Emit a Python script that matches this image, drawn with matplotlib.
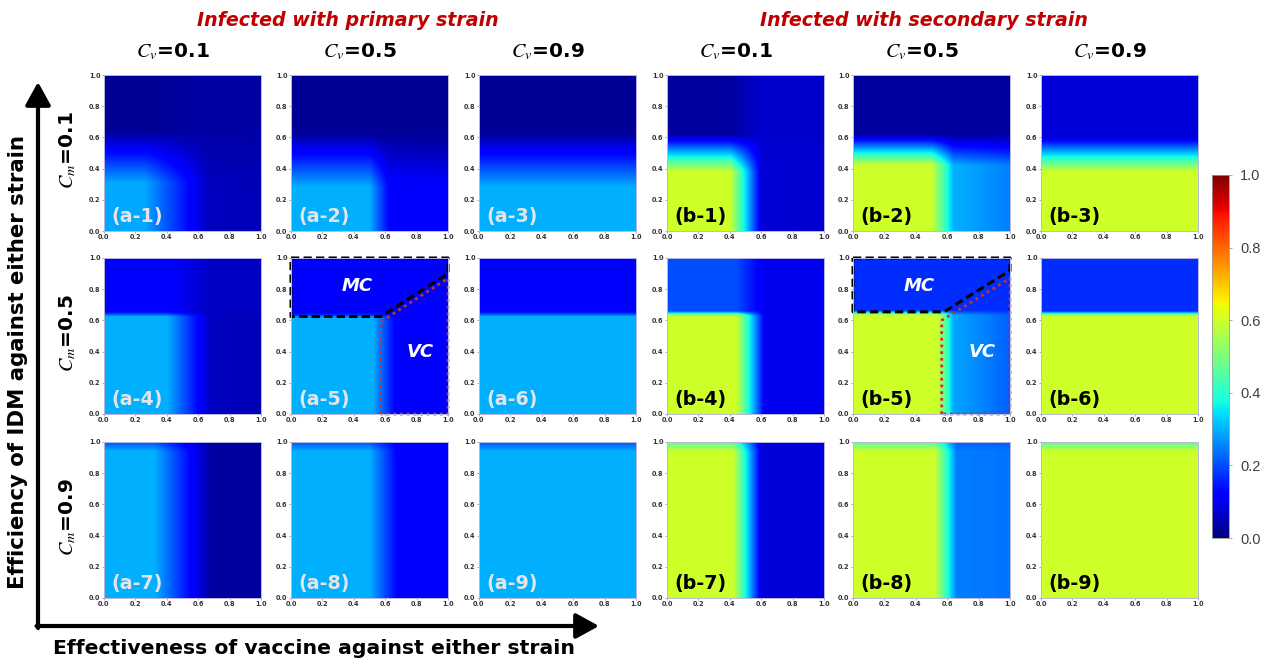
import numpy as np
import matplotlib
matplotlib.use("Agg")
import matplotlib.pyplot as plt
from matplotlib.patches import FancyArrowPatch

plt.rcParams['font.family'] = ['DejaVu Sans']
plt.rcParams['mathtext.fontset'] = 'stix'

# rows: C_m = 0.1, 0.5, 0.9 ; columns: (a) C_v = 0.1, 0.5, 0.9 then (b) C_v = 0.1, 0.5, 0.9
cm_values = ["0.1", "0.5", "0.9"]
cv_values = ["0.1", "0.5", "0.9", "0.1", "0.5", "0.9"]
panel_names = [["(a-1)", "(a-2)", "(a-3)", "(b-1)", "(b-2)", "(b-3)"],
               ["(a-4)", "(a-5)", "(a-6)", "(b-4)", "(b-5)", "(b-6)"],
               ["(a-7)", "(a-8)", "(a-9)", "(b-7)", "(b-8)", "(b-9)"]]

# fraction infected in each region of the (vaccine, IDM) plane
low_left = [[0.29, 0.30, 0.30, 0.60, 0.60, 0.60],
            [0.30, 0.30, 0.30, 0.60, 0.60, 0.60],
            [0.30, 0.30, 0.30, 0.60, 0.60, 0.60]]
low_right = [[0.06, 0.13, 0.30, 0.08, 0.31, 0.60],
             [0.06, 0.13, 0.30, 0.10, 0.30, 0.60],
             [0.03, 0.12, 0.30, 0.08, 0.25, 0.60]]
low_right_far = [[0.05, 0.12, 0.30, 0.07, 0.25, 0.60],
                 [0.05, 0.12, 0.30, 0.10, 0.22, 0.60],
                 [0.03, 0.12, 0.30, 0.08, 0.24, 0.60]]
top_left = [[0.02, 0.02, 0.02, 0.03, 0.03, 0.08],
            [0.12, 0.12, 0.12, 0.20, 0.17, 0.17],
            [0.21, 0.21, 0.21, 0.46, 0.46, 0.46]]
top_right = [[0.035, 0.02, 0.02, 0.07, 0.03, 0.08],
             [0.06, 0.12, 0.12, 0.10, 0.17, 0.17],
             [0.03, 0.11, 0.21, 0.08, 0.22, 0.46]]

# centre and width of the switch along each axis
vacc_edge = [[0.46, 0.56, 0.56, 0.50, 0.57, 0.58],
             [0.54, 0.59, 0.58, 0.53, 0.59, 0.58],
             [0.50, 0.59, 0.60, 0.51, 0.59, 0.60]]
vacc_width = [[0.40, 0.12, 0.10, 0.20, 0.14, 0.10],
              [0.28, 0.14, 0.10, 0.18, 0.10, 0.10],
              [0.36, 0.18, 0.10, 0.18, 0.14, 0.10]]
idm_edge = [[0.475, 0.455, 0.455, 0.50, 0.52, 0.49],
            [0.64, 0.63, 0.64, 0.645, 0.65, 0.645],
            [0.97, 0.97, 0.97, 0.97, 0.97, 0.97]]
idm_width = [[0.33, 0.35, 0.35, 0.24, 0.20, 0.22],
             [0.03, 0.03, 0.03, 0.03, 0.03, 0.03],
             [0.06, 0.06, 0.06, 0.06, 0.06, 0.06]]

# control boundaries drawn on (a-5) and (b-5)
mc_box = {1: ([0, 1, 1, 0.57, 0, 0], [1, 1, 0.90, 0.625, 0.625, 1]),
          4: ([0, 1, 1, 0.58, 0, 0], [1, 1, 0.92, 0.655, 0.655, 1])}
vc_box = {1: ([0.57, 0.57, 1, 1, 0.57], [0, 0.59, 0.87, 0, 0]),
          4: ([0.565, 0.565, 1, 1, 0.565], [0, 0.60, 0.87, 0, 0])}

fig_w, fig_h = 1270, 661
col_left = [104, 291, 479, 667, 853, 1041]
row_top = [75, 258, 442]
pw, ph = 157, 156


def ramp(t):
    return np.clip(t + 0.5, 0, 1)


xs = np.linspace(0, 1, 300)
X, Y = np.meshgrid(xs, xs)

fig = plt.figure(figsize=(fig_w / 100, fig_h / 100), dpi=100)

for r in range(3):
    for c in range(6):
        ax = fig.add_axes([col_left[c] / fig_w, 1 - (row_top[r] + ph) / fig_h,
                           pw / fig_w, ph / fig_h])
        xc, wx = vacc_edge[r][c], vacc_width[r][c]
        yc, wy = idm_edge[r][c], idm_width[r][c]
        sx = ramp((X - xc) / wx)
        sy = ramp((Y - yc) / wy)
        far = np.clip((X - xc) / (1 - xc), 0, 1)
        right = low_right[r][c] + (low_right_far[r][c] - low_right[r][c]) * far
        bottom = (1 - sx) * low_left[r][c] + sx * right
        top = (1 - sx) * top_left[r][c] + sx * top_right[r][c]
        Z = (1 - sy) * bottom + sy * top
        im = ax.imshow(Z, cmap='jet', vmin=0, vmax=1, origin='lower',
                       extent=[0, 1, 0, 1], aspect='auto', interpolation='bilinear')
        ax.set_xlim(0, 1)
        ax.set_ylim(0, 1)
        ticks = np.arange(0, 1.01, 0.2)
        ax.set_xticks(ticks)
        ax.set_yticks(ticks)
        ax.set_xticklabels([f"{t:.1f}" for t in ticks])
        ax.set_yticklabels([f"{t:.1f}" for t in ticks])
        ax.tick_params(labelsize=4.7, length=1.5, width=0.5, pad=1,
                       colors='#888888', labelcolor='#333333')
        for lab in ax.get_xticklabels() + ax.get_yticklabels():
            lab.set_fontweight('bold')
        for sp in ax.spines.values():
            sp.set_color('#b8b8e0')
            sp.set_linewidth(0.7)

        label_color = '#e4e4e4' if c < 3 else 'black'
        ax.text(0.05, 0.06, panel_names[r][c], transform=ax.transAxes,
                fontsize=13.8, fontweight='bold', color=label_color,
                ha='left', va='baseline')

        if r == 1 and c in mc_box:
            bx, by = mc_box[c]
            ax.plot(bx, by, color='black', lw=2.2, ls=(0, (2.7, 1.4)), clip_on=False)
            vx, vy = vc_box[c]
            ax.plot(vx, vy, color='#c83030', lw=2.0, ls=(0, (1, 1.4)), clip_on=False)
            ax.text(0.42, 0.82, "MC", transform=ax.transAxes, color='white',
                    fontsize=13, fontweight='bold', style='italic',
                    ha='center', va='center')
            ax.text(0.82, 0.40, "VC", transform=ax.transAxes, color='white',
                    fontsize=13, fontweight='bold', style='italic',
                    ha='center', va='center')

# column and row headers
for c in range(6):
    cx = col_left[c] + pw / 2 - 10
    fig.text(cx / fig_w, 1 - 52 / fig_h, r"$C_v$=" + cv_values[c],
             fontsize=14.5, fontweight='bold', ha='center', va='center')
for r in range(3):
    cy = row_top[r] + ph / 2 - 3
    fig.text(68 / fig_w, 1 - cy / fig_h, r"$C_m$=" + cm_values[r],
             fontsize=14.5, fontweight='bold', ha='center', va='center', rotation=90)

fig.text(348 / fig_w, 1 - 21 / fig_h, "Infected with primary strain",
         fontsize=13.7, fontweight='bold', style='italic', color='#c00000',
         ha='center', va='center')
fig.text(924 / fig_w, 1 - 21 / fig_h, "Infected with secondary strain",
         fontsize=13.7, fontweight='bold', style='italic', color='#c00000',
         ha='center', va='center')

# axis arrows
arrow = '-|>,head_length=1.0,head_width=0.55'
fig.add_artist(FancyArrowPatch((38 / fig_w, 1 - 628 / fig_h), (38 / fig_w, 1 - 82 / fig_h),
                               transform=fig.transFigure, arrowstyle=arrow,
                               mutation_scale=14, lw=3, color='black', shrinkA=0, shrinkB=0))
fig.add_artist(FancyArrowPatch((36.5 / fig_w, 1 - 626 / fig_h), (599 / fig_w, 1 - 626 / fig_h),
                               transform=fig.transFigure, arrowstyle=arrow,
                               mutation_scale=14, lw=3, color='black', shrinkA=0, shrinkB=0))
fig.text(18 / fig_w, 1 - 362 / fig_h, "Efficiency of IDM against either strain",
         fontsize=15.3, fontweight='bold', rotation=90, ha='center', va='center')
fig.text(314 / fig_w, 1 - 648 / fig_h, "Effectiveness of vaccine against either strain",
         fontsize=14.7, fontweight='bold', ha='center', va='center')

# colour bar
cax = fig.add_axes([1212 / fig_w, 1 - 538 / fig_h, 17 / fig_w, 363 / fig_h])
cb = fig.colorbar(im, cax=cax, ticks=np.arange(0, 1.01, 0.2))
cb.ax.set_yticklabels(["0.0", "0.2", "0.4", "0.6", "0.8", "1.0"])
cb.ax.tick_params(labelsize=10.5, length=2, width=0.5, colors='#888888', labelcolor='#404040', pad=6)
for lab in cb.ax.get_yticklabels():
    lab.set_fontfamily('Liberation Sans')
cb.outline.set_edgecolor('#999999')
cb.outline.set_linewidth(0.6)

fig.savefig("out.png", dpi=100)
